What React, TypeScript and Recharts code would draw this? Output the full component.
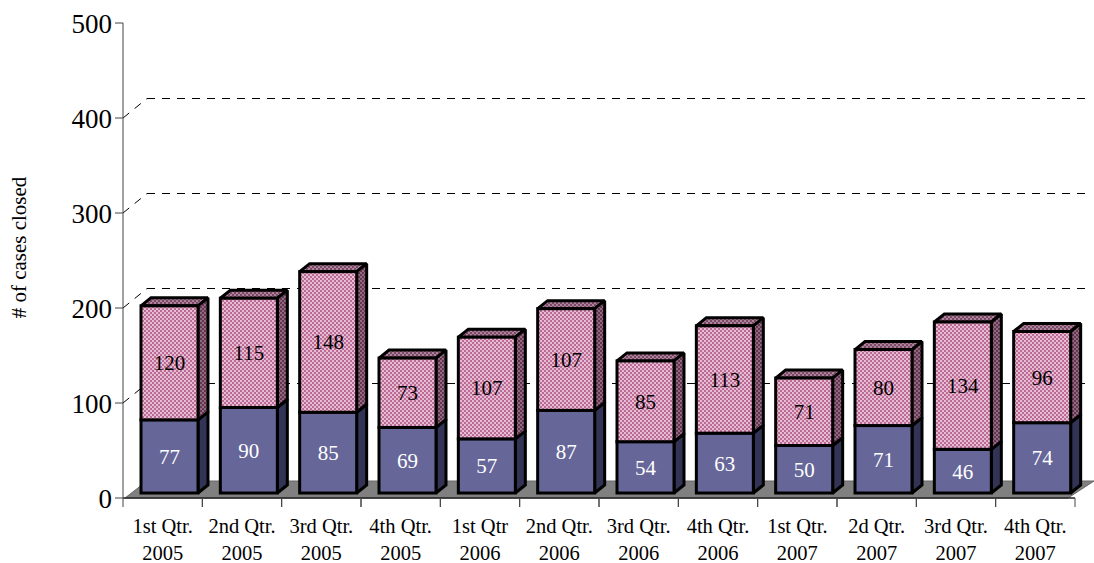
import { BarChart, Bar, XAxis, YAxis, CartesianGrid, LabelList, Label } from 'recharts';

const quarters = [
    ['1st Qtr.', '2005'],
    ['2nd Qtr.', '2005'],
    ['3rd Qtr.', '2005'],
    ['4th Qtr.', '2005'],
    ['1st Qtr', '2006'],
    ['2nd Qtr.', '2006'],
    ['3rd Qtr.', '2006'],
    ['4th Qtr.', '2006'],
    ['1st Qtr.', '2007'],
    ['2d Qtr.', '2007'],
    ['3rd Qtr.', '2007'],
    ['4th Qtr.', '2007'],
];
const lowerValues = [77, 90, 85, 69, 57, 87, 54, 63, 50, 71, 46, 74];
const upperValues = [120, 115, 148, 73, 107, 107, 85, 113, 71, 80, 134, 96];
const yTicks = [0, 100, 200, 300, 400, 500];

const data = quarters.map((q, i) => ({
    name: q.join(' '),
    lower: lowerValues[i],
    upper: upperValues[i],
}));

const FONT = '"Liberation Serif", "Times New Roman", serif';
const INK = '#000000';
const DEPTH_X = 10;
const DEPTH_Y = 8;
const BAR_DX = 7;
const BAR_DY = -5;
const WALL_DX = 24;
const WALL_DY = 19.5;
const BAND = 952 / 12;

const Bar3D = (props: any) => {
    const { x, y, width, height, front, side, top } = props;
    const l = x + BAR_DX;
    const r = l + width;
    const t = y + BAR_DY;
    const b = t + height;
    const outline = { stroke: INK, strokeWidth: 3, strokeLinejoin: 'miter' as const, strokeMiterlimit: 2 };
    return (
        <g>
            <polygon
                points={`${l},${t} ${l + DEPTH_X},${t - DEPTH_Y} ${r + DEPTH_X},${t - DEPTH_Y} ${r},${t}`}
                fill={top}
                {...outline}
            />
            <polygon
                points={`${r},${t} ${r + DEPTH_X},${t - DEPTH_Y} ${r + DEPTH_X},${b - DEPTH_Y} ${r},${b}`}
                fill={side}
                {...outline}
            />
            <rect x={l} y={t} width={width} height={height} fill={front} {...outline} />
        </g>
    );
};

const WallLine = (props: any) => {
    const { x1, x2, y1, index } = props;
    if (y1 < 30) return null;
    if (y1 > 490) {
        return (
            <polygon
                key={`floor-${index}`}
                points={`${x1 + 2},${y1} ${x1 + WALL_DX},${y1 - 17} ${x2 + 19},${y1 - 17} ${x2 - 7},${y1}`}
                fill='#808080'
                stroke='#666666'
                strokeWidth={1}
            />
        );
    }
    return (
        <g key={`wall-${index}`} stroke={INK} strokeWidth={1} strokeDasharray='8 7' fill='none'>
            <line x1={x1} y1={y1} x2={x1 + WALL_DX} y2={y1 - WALL_DY} />
            <line x1={x1 + WALL_DX} y1={y1 - WALL_DY} x2={x2 + 17} y2={y1 - WALL_DY} />
        </g>
    );
};

const QuarterTick = (props: any) => {
    const { x, y, index } = props;
    const lines = quarters[index];
    const left = x - BAND / 2;
    const right = x + BAND / 2;
    return (
        <g>
            <line x1={left} y1={y - 8} x2={left} y2={y + 1} stroke='#444444' />
            <line x1={right} y1={y - 8} x2={right} y2={y + 1} stroke='#444444' />
            <text x={x} y={y + 27} textAnchor='middle' fontFamily={FONT} fontSize={20.5} fill={INK}>
                {lines[0]}
            </text>
            <text x={x} y={y + 54} textAnchor='middle' fontFamily={FONT} fontSize={20.5} fill={INK}>
                {lines[1]}
            </text>
        </g>
    );
};

const App = () => {
    return (
        <div style={{ position: 'absolute', left: 0, top: 0 }}>
            <BarChart
                width={1094}
                height={563}
                data={data}
                barCategoryGap={11}
                margin={{ top: 23, right: 19, bottom: 0, left: 0 }}
            >
                <defs>
                    <pattern id='pinkFront' width={4} height={4} patternUnits='userSpaceOnUse'>
                        <rect width={4} height={4} fill='#bb6a95' />
                        <rect x={0} y={0} width={2} height={2} fill='#e6bcd2' />
                        <rect x={2} y={2} width={2} height={2} fill='#e6bcd2' />
                    </pattern>
                    <pattern id='pinkSide' width={4} height={4} patternUnits='userSpaceOnUse'>
                        <rect width={4} height={4} fill='#663350' />
                        <rect x={0} y={0} width={2} height={2} fill='#8f6b80' />
                        <rect x={2} y={2} width={2} height={2} fill='#8f6b80' />
                    </pattern>
                    <pattern id='pinkTop' width={4} height={4} patternUnits='userSpaceOnUse'>
                        <rect width={4} height={4} fill='#7f4766' />
                        <rect x={0} y={0} width={2} height={2} fill='#a8859a' />
                        <rect x={2} y={2} width={2} height={2} fill='#a8859a' />
                    </pattern>
                </defs>
                <CartesianGrid horizontal={WallLine} vertical={false} />
                <XAxis
                    dataKey='name'
                    interval={0}
                    height={65}
                    axisLine={{ stroke: '#222222', strokeWidth: 1.5 }}
                    tickLine={false}
                    tick={QuarterTick}
                />
                <YAxis
                    width={123}
                    domain={[0, 500]}
                    ticks={yTicks}
                    tickSize={8}
                    tickMargin={3}
                    axisLine={{ stroke: '#444444' }}
                    tickLine={{ stroke: '#444444' }}
                    tick={{ fontFamily: FONT, fontSize: 27, fill: INK }}
                >
                    <Label
                        value='# of cases closed'
                        angle={-90}
                        position='insideLeft'
                        dx={14}
                        dy={-13}
                        style={{ fontFamily: FONT, fontSize: 21, fill: INK, textAnchor: 'middle' }}
                    />
                </YAxis>
                <Bar
                    dataKey='lower'
                    stackId='cases'
                    isAnimationActive={false}
                    shape={(p: any) => <Bar3D {...p} front='#666699' side='#333355' top='#333355' />}
                >
                    <LabelList
                        dataKey='lower'
                        position='center'
                        dx={BAR_DX}
                        dy={BAR_DY}
                        fill='#ffffff'
                        style={{ fontFamily: FONT, fontSize: 21 }}
                    />
                </Bar>
                <Bar
                    dataKey='upper'
                    stackId='cases'
                    isAnimationActive={false}
                    shape={(p: any) => (
                        <Bar3D {...p} front='url(#pinkFront)' side='url(#pinkSide)' top='url(#pinkTop)' />
                    )}
                >
                    <LabelList
                        dataKey='upper'
                        position='center'
                        dx={BAR_DX}
                        dy={BAR_DY}
                        fill={INK}
                        style={{ fontFamily: FONT, fontSize: 21 }}
                    />
                </Bar>
            </BarChart>
        </div>
    );
};

export default App;
